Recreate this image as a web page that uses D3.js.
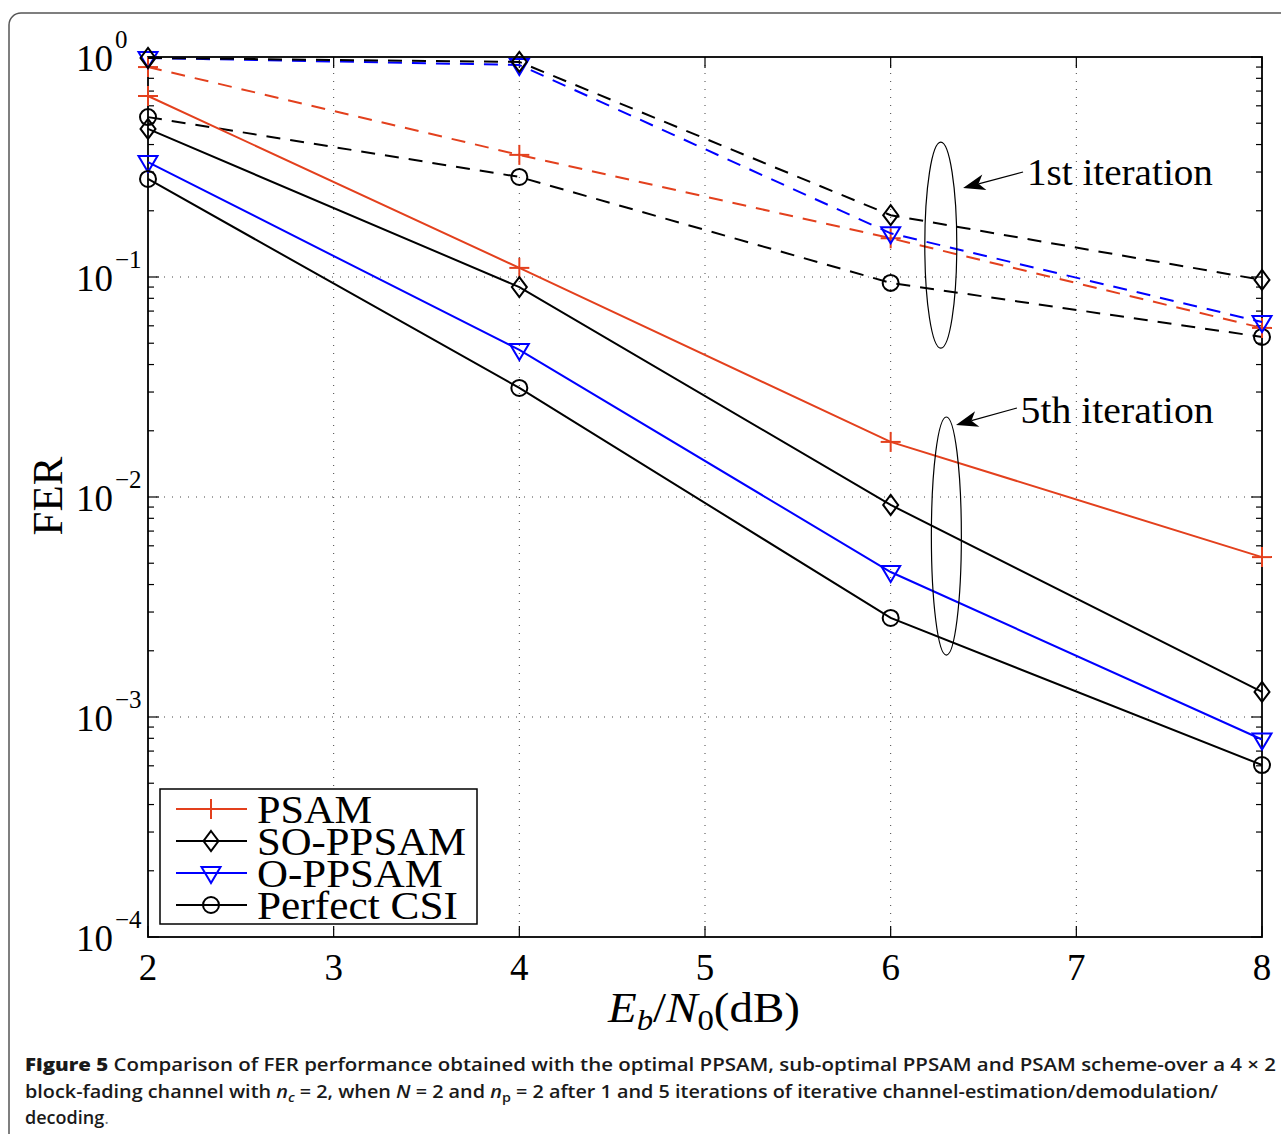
<!DOCTYPE html>
<html><head><meta charset="utf-8">
<script src="https://cdn.jsdelivr.net/npm/d3@7"></script>
<style>body{margin:0;background:#fff}svg{display:block}</style>
</head><body>
<svg id="c" width="1281" height="1134"></svg>
<script>
// ---------------- data ----------------
const snr = [2, 4, 6, 8];
// 1st iteration (dashed)
const psam1   = [0.90, 0.359, 0.150, 0.0587];
const soppsam1 = [0.99, 0.95, 0.191, 0.097];
const oppsam1 = [0.99, 0.92, 0.158, 0.0624];
const csi1    = [0.533, 0.285, 0.094, 0.0534];
// 5th iteration (solid)
const psam5   = [0.665, 0.110, 0.0178, 0.00533];
const soppsam5 = [0.471, 0.090, 0.0092, 0.0013];
const oppsam5 = [0.333, 0.0466, 0.00456, 0.00079];
const csi5    = [0.279, 0.0313, 0.00282, 0.000605];

const seriesNames = ["PSAM", "SO-PPSAM", "O-PPSAM", "Perfect CSI"];
const seriesColors = ["#e3401d", "#000000", "#0000ff", "#000000"];
const seriesMarkers = ["plus", "diamond", "tri", "circle"];
const xTicks = [2, 3, 4, 5, 6, 7, 8];
const yExps = [0, -1, -2, -3, -4];

// ---------------- layout ----------------
const svg = d3.select("#c");
const x = d3.scaleLinear().domain([2, 8]).range([148, 1262]);
const y = d3.scaleLog().domain([1e-4, 1]).range([937, 57]);
const serif = "'Liberation Serif','DejaVu Serif',serif";

// outer frame
svg.append("rect").attr("x", 9).attr("y", 13).attr("width", 1300).attr("height", 1200)
  .attr("rx", 12).attr("fill", "none").attr("stroke", "#555").attr("stroke-width", 1.5);

// grid
const grid = svg.append("g").attr("stroke", "#444").attr("stroke-width", 1).attr("stroke-dasharray", "1,7");
xTicks.slice(1, -1).forEach(t => grid.append("line").attr("x1", x(t)).attr("x2", x(t)).attr("y1", y(1)).attr("y2", y(1e-4)));
yExps.slice(1, -1).forEach(e => grid.append("line").attr("x1", x(2)).attr("x2", x(8)).attr("y1", y(Math.pow(10, e))).attr("y2", y(Math.pow(10, e))));

// ticks
const tk = svg.append("g").attr("stroke", "#000").attr("stroke-width", 1.2);
xTicks.forEach(t => {
  tk.append("line").attr("x1", x(t)).attr("x2", x(t)).attr("y1", y(1e-4)).attr("y2", y(1e-4) - 11);
  tk.append("line").attr("x1", x(t)).attr("x2", x(t)).attr("y1", y(1)).attr("y2", y(1) + 11);
});
yExps.forEach(e => {
  const v = Math.pow(10, e);
  tk.append("line").attr("x1", x(2)).attr("x2", x(2) + 11).attr("y1", y(v)).attr("y2", y(v));
  tk.append("line").attr("x1", x(8)).attr("x2", x(8) - 11).attr("y1", y(v)).attr("y2", y(v));
  if (e > -4) {
    for (let k = 2; k <= 9; k++) {
      const m = k * Math.pow(10, e - 1);
      tk.append("line").attr("x1", x(2)).attr("x2", x(2) + 6).attr("y1", y(m)).attr("y2", y(m));
      tk.append("line").attr("x1", x(8)).attr("x2", x(8) - 6).attr("y1", y(m)).attr("y2", y(m));
    }
  }
});

// axes box
svg.append("rect").attr("x", x(2)).attr("y", y(1)).attr("width", x(8) - x(2)).attr("height", y(1e-4) - y(1))
  .attr("fill", "none").attr("stroke", "#000").attr("stroke-width", 1.8);

// tick labels
xTicks.forEach(t => {
  svg.append("text").attr("x", x(t)).attr("y", y(1e-4) + 43).attr("text-anchor", "middle")
    .attr("font-family", serif).attr("font-size", 37).text(t);
});
yExps.forEach(e => {
  const tx = svg.append("text").attr("x", 76).attr("y", y(Math.pow(10, e)) + 13.5)
    .attr("font-family", serif).attr("font-size", 37);
  tx.append("tspan").text("10");
  tx.append("tspan").attr("dy", -23).attr("dx", 2).attr("font-size", 25).text(e === 0 ? "0" : "\u2212" + (-e));
});

// axis labels
const xl = svg.append("text").attr("x", 608).attr("y", 1022)
  .attr("font-family", serif).attr("font-size", 43)
  .attr("textLength", 192).attr("lengthAdjust", "spacingAndGlyphs");
xl.append("tspan").attr("font-style", "italic").text("E");
xl.append("tspan").attr("font-style", "italic").attr("font-size", 30).attr("dy", 8).text("b");
xl.append("tspan").attr("dy", -8).text("/");
xl.append("tspan").attr("font-style", "italic").text("N");
xl.append("tspan").attr("font-size", 30).attr("dy", 8).text("0");
xl.append("tspan").attr("dy", -8).text("(dB)");

svg.append("text").attr("transform", "translate(62,496) rotate(-90)").attr("text-anchor", "middle")
  .attr("font-family", serif).attr("font-size", 43).text("FER");

// markers
function drawMarker(g, type, cx, cy, color) {
  const s = g.append("g").attr("fill", "none").attr("stroke", color).attr("stroke-width", 2);
  if (type === "plus") {
    s.append("line").attr("x1", cx - 10).attr("x2", cx + 10).attr("y1", cy).attr("y2", cy);
    s.append("line").attr("x1", cx).attr("x2", cx).attr("y1", cy - 10).attr("y2", cy + 10);
  } else if (type === "diamond") {
    s.append("path").attr("d", `M${cx},${cy - 10}L${cx + 7.5},${cy}L${cx},${cy + 10}L${cx - 7.5},${cy}Z`);
  } else if (type === "tri") {
    s.append("path").attr("d", `M${cx - 9.5},${cy - 6}L${cx + 9.5},${cy - 6}L${cx},${cy + 10}Z`);
  } else {
    s.append("circle").attr("cx", cx).attr("cy", cy).attr("r", 8);
  }
}

const line = d3.line().x(d => x(d[0])).y(d => y(d[1]));
const plot = svg.append("g");
function series(vals, i, dashed) {
  const pts = snr.map((s, j) => [s, vals[j]]);
  plot.append("path").attr("d", line(pts)).attr("fill", "none").attr("stroke", seriesColors[i])
    .attr("stroke-width", 2).attr("stroke-dasharray", dashed ? "14,10" : null);
  pts.forEach(p => drawMarker(plot, seriesMarkers[i], x(p[0]), y(p[1]), seriesColors[i]));
}
[csi1, psam1, oppsam1, soppsam1].forEach((v, k) => series(v, [3, 0, 2, 1][k], true));
[psam5, soppsam5, oppsam5, csi5].forEach((v, i) => series(v, i, false));

// annotations (data coordinates)
const ann = svg.append("g").attr("stroke", "#000").attr("fill", "none").attr("stroke-width", 1.2);
function ellipse(cxv, top, bot, rx) {
  const cy = (y(top) + y(bot)) / 2, ry = (y(bot) - y(top)) / 2;
  ann.append("ellipse").attr("cx", x(cxv)).attr("cy", cy).attr("rx", rx).attr("ry", ry);
}
ellipse(6.27, 0.41, 0.0475, 16);
ellipse(6.30, 0.0231, 0.00191, 15);
function arrow(x0, y0, x1, y1) {
  const X0 = x(x0), Y0 = y(y0), X1 = x(x1), Y1 = y(y1);
  const a = Math.atan2(Y1 - Y0, X1 - X0);
  const L = 22, W = 8, notch = 16;
  const bx = X1 - L * Math.cos(a), by = Y1 - L * Math.sin(a);
  const nx = X1 - notch * Math.cos(a), ny = Y1 - notch * Math.sin(a);
  const px = -Math.sin(a), py = Math.cos(a);
  ann.append("line").attr("x1", X0).attr("y1", Y0).attr("x2", nx).attr("y2", ny);
  svg.append("path").attr("fill", "#000")
    .attr("d", `M${X1},${Y1}L${bx + W * px},${by + W * py}L${nx},${ny}L${bx - W * px},${by - W * py}Z`);
}
arrow(6.713, 0.300, 6.390, 0.254);
arrow(6.680, 0.02538, 6.352, 0.02125);
svg.append("text").attr("x", x(6.734)).attr("y", y(0.262)).attr("font-family", serif).attr("font-size", 38)
  .attr("textLength", 186).attr("lengthAdjust", "spacingAndGlyphs").text("1st iteration");
svg.append("text").attr("x", x(6.70)).attr("y", y(0.0217)).attr("font-family", serif).attr("font-size", 38)
  .attr("textLength", 193).attr("lengthAdjust", "spacingAndGlyphs").text("5th iteration");

// legend
const lg = svg.append("g");
lg.append("rect").attr("x", 160).attr("y", 789).attr("width", 317).attr("height", 135)
  .attr("fill", "#fff").attr("stroke", "#000").attr("stroke-width", 1.5);
const legendWidths = [115, 209, 186, 201];
seriesNames.forEach((n, i) => {
  const cy = 809 + i * 32;
  lg.append("line").attr("x1", 176).attr("x2", 247).attr("y1", cy).attr("y2", cy)
    .attr("stroke", seriesColors[i]).attr("stroke-width", 2);
  drawMarker(lg, seriesMarkers[i], 211, cy, seriesColors[i]);
  lg.append("text").attr("x", 257).attr("y", cy + 13.5).attr("font-family", serif).attr("font-size", 41)
    .attr("textLength", legendWidths[i]).attr("lengthAdjust", "spacingAndGlyphs").text(n);
});

// caption
const cap = "'Open Sans','Noto Sans',sans-serif";
const c1 = svg.append("text").attr("x", 25).attr("y", 1071).attr("font-family", cap).attr("font-size", 18)
  .attr("font-weight", 600).attr("fill", "#1a1a1a").attr("textLength", 1251).attr("lengthAdjust", "spacingAndGlyphs");
c1.append("tspan").attr("font-weight", 800).text("Figure 5");
c1.append("tspan").text(" Comparison of FER performance obtained with the optimal PPSAM, sub-optimal PPSAM and PSAM scheme-over a 4 \u00d7 2");
const c2 = svg.append("text").attr("x", 25).attr("y", 1098).attr("font-family", cap).attr("font-size", 18)
  .attr("font-weight", 600).attr("fill", "#1a1a1a").attr("textLength", 1193).attr("lengthAdjust", "spacingAndGlyphs");
c2.append("tspan").text("block-fading channel with ");
c2.append("tspan").attr("font-style", "italic").text("n");
c2.append("tspan").attr("font-style", "italic").attr("font-size", 13).attr("dy", 4).text("c");
c2.append("tspan").attr("dy", -4).text(" = 2, when ");
c2.append("tspan").attr("font-style", "italic").text("N");
c2.append("tspan").text(" = 2 and ");
c2.append("tspan").attr("font-style", "italic").text("n");
c2.append("tspan").attr("font-size", 13).attr("dy", 4).text("p");
c2.append("tspan").attr("dy", -4).text(" = 2 after 1 and 5 iterations of iterative channel-estimation/demodulation/");
const c3 = svg.append("text").attr("x", 25).attr("y", 1124).attr("font-family", cap).attr("font-size", 18)
  .attr("font-weight", 600).attr("fill", "#1a1a1a");
c3.append("tspan").text("decoding");
c3.append("tspan").attr("font-weight", 400).attr("fill", "#777").text(".");
</script>
</body></html>
